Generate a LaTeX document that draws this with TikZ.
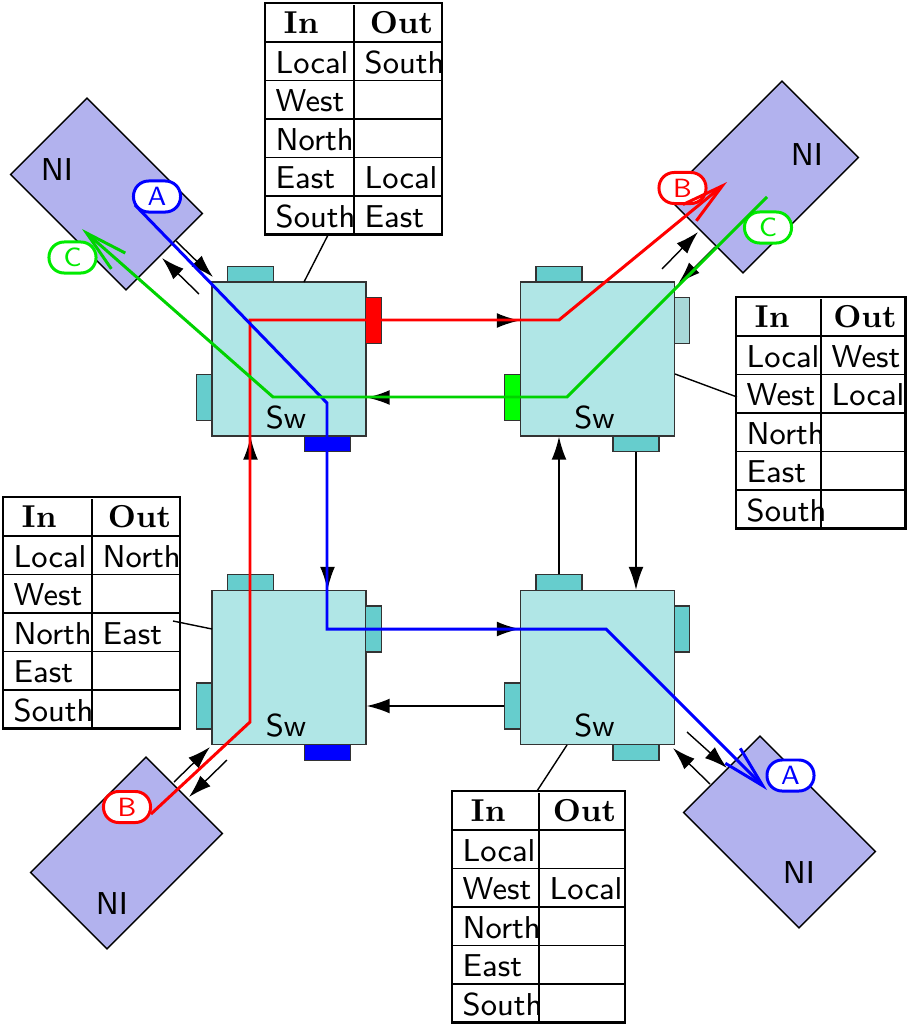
\documentclass[tikz,border=0pt]{standalone}
\usepackage{fontspec}
\usetikzlibrary{arrows.meta,calc,fit}
\definecolor{swfill}{RGB}{176,230,230}
\definecolor{swdraw}{RGB}{51,51,51}
\definecolor{bufc}{RGB}{102,205,205}
\definecolor{bufpale}{RGB}{168,216,216}
\definecolor{nifill}{RGB}{178,178,238}
\definecolor{rred}{RGB}{255,0,0}
\definecolor{rblue}{RGB}{0,0,255}
\definecolor{rgreen}{RGB}{0,210,0}
\definecolor{pgreen}{RGB}{0,235,0}
\definecolor{bgreen}{RGB}{0,255,0}
\tikzset{
 txt/.style={font=\sffamily\fontsize{9}{11}\selectfont, inner sep=0pt},
 hdr/.style={font=\rmfamily\bfseries\fontsize{9}{11}\selectfont, inner sep=0pt},
 swbox/.style={draw=swdraw, fill=swfill, minimum size=1.54cm, inner sep=0pt, line width=0.4pt},
 bufh/.style={draw=swdraw, fill=bufc, minimum width=0.46cm, minimum height=0.155cm, inner sep=0pt, line width=0.4pt},
 bufv/.style={draw=swdraw, fill=bufc, minimum width=0.155cm, minimum height=0.46cm, inner sep=0pt, line width=0.4pt},
 nibox/.style={draw=black, fill=nifill, minimum width=1.63cm, minimum height=1.08cm, inner sep=0pt, line width=0.4pt},
 link/.style={draw=black, line width=0.4pt, -{Latex[length=6.5pt,width=4.2pt]}},
 route/.style={line width=0.85pt, -{Straight Barb[length=12pt,width=6pt]}},
 pill/.style={draw=#1, text=#1, fill=white, line width=0.85pt, rounded corners=4.3pt, minimum width=0.47cm, minimum height=0.31cm, inner sep=0pt, font=\sffamily\fontsize{7.5}{9}\selectfont},
 tabframe/.style={draw=black, line width=0.8pt, inner sep=0pt},
 tabline/.style={draw=black, line width=0.4pt},
 leader/.style={draw=black, line width=0.4pt},
}
% switch: name, cx, cy, colours of north, east, south, west buffers
\newcommand{\swnode}[7]{%
 \node[swbox] (#1) at (#2,#3) {};
 \node[bufh, fill=#4] (#1n) at (#2-38.5,#3-77-8) {};
 \node[bufv, fill=#5] (#1e) at (#2+77+7.5,#3-38.5) {};
 \node[bufh, fill=#6] (#1s) at (#2+38.5,#3+77+8) {};
 \node[bufv, fill=#7] (#1w) at (#2-77-8,#3+38.5) {};
 \node[txt, anchor=base] (#1l) at (#2-3,#3+77-8) {Sw};
}
% routing table: name, left, top, divider x, right, list of row/out
\newcommand{\rtab}[6]{%
 \node[tabframe, fit={(#2,#3) (#5,#3+231.5)}] (#1) {};
 \draw[tabline] (#4,#3+2) -- (#4,#3+231.5);
 \foreach \k in {0,...,4} {\draw[tabline] (#2,#3+39+38.5*\k) -- (#5,#3+39+38.5*\k);}
 \node[hdr, anchor=base west] (#1-hi) at (#2+18,#3+30) {In};
 \node[hdr, anchor=base east] (#1-ho) at (#5-8,#3+30) {Out};
 \foreach \t [count=\k] in {Local,West,North,East,South} {\node[txt, anchor=base west] (#1-i\k) at (#2+10,#3+31.5+38.5*\k) {\t};}
 \foreach \k/\t in {#6} {\node[txt, anchor=base west] (#1-o\k) at (#4+10,#3+31.5+38.5*\k) {\t};}
}
\begin{document}
\begin{tikzpicture}[x=0.01cm,y=-0.01cm]
\useasboundingbox (0,0) rectangle (907,1024);
% network interfaces
\node[nibox, rotate=-45] (ni1) at (106.5,194) {};
\node[nibox, rotate=45] (ni2) at (762.5,177) {};
\node[nibox, rotate=45] (ni3) at (126.5,853) {};
\node[nibox, rotate=-45] (ni4) at (779.5,832) {};
\node[txt] (ni1l) at (57,170) {NI};
\node[txt] (ni2l) at (807,155) {NI};
\node[txt] (ni3l) at (112,904) {NI};
\node[txt] (ni4l) at (799,873) {NI};
% switches
\swnode{s1}{289}{359}{bufc}{rred}{rblue}{bufc}
\swnode{s2}{597.5}{359}{bufc}{bufpale}{bufc}{bgreen}
\swnode{s3}{289}{667.5}{bufc}{bufc}{rblue}{bufc}
\swnode{s4}{597.5}{667.5}{bufc}{bufc}{bufc}{bufc}
% routing tables
\rtab{t1}{265}{3}{354}{442}{1/South,4/Local,5/East}
\rtab{t2}{736}{297}{821}{905.5}{1/West,2/Local}
\rtab{t3}{3}{497}{92}{180}{1/North,3/East}
\rtab{t4}{452}{791}{539}{625}{2/Local}
% leaders from tables to switches
\coordinate (l1a) at (328,235); \coordinate (l1b) at (304,282);
\coordinate (l2a) at (737,397); \coordinate (l2b) at (675,374);
\coordinate (l3a) at (173,621); \coordinate (l3b) at (212,629);
\coordinate (l4a) at (537,791); \coordinate (l4b) at (567,745);
\draw[leader] (l1a) -- (l1b);
\draw[leader] (l2a) -- (l2b);
\draw[leader] (l3a) -- (l3b);
\draw[leader] (l4a) -- (l4b);
% links between switches
\draw[link] (s1e.east) -- (s1e.east -| s2.west);
\draw[link] (s2w.west) -- (s2w.west -| s1.east);
\draw[link] (s1s.south) -- (s1s.south |- s3.north);
\draw[link] (s3n.north) -- (s3n.north |- s1.south);
\draw[link] (s2s.south) -- (s2s.south |- s4.north);
\draw[link] (s4n.north) -- (s4n.north |- s2.south);
\draw[link] (s3e.east) -- (s3e.east -| s4.west);
\draw[link] (s4w.west) -- (s4w.west -| s3.east);
% links between NIs and switches
\coordinate (n1a) at (176,241); \coordinate (n1b) at (213,277);
\coordinate (n1c) at (199,294); \coordinate (n1d) at (162,258);
\coordinate (n2a) at (662,269); \coordinate (n2b) at (698,232);
\coordinate (n2c) at (715,247); \coordinate (n2d) at (678,284);
\coordinate (n3a) at (174,782); \coordinate (n3b) at (210,747);
\coordinate (n3c) at (227,760); \coordinate (n3d) at (189,797);
\coordinate (n4a) at (687,732); \coordinate (n4b) at (727,768);
\coordinate (n4c) at (710,784); \coordinate (n4d) at (673,748);
\draw[link] (n1a) -- (n1b); \draw[link] (n1c) -- (n1d);
\draw[link] (n2a) -- (n2b); \draw[link] (n2c) -- (n2d);
\draw[link] (n3a) -- (n3b); \draw[link] (n3c) -- (n3d);
\draw[link] (n4a) -- (n4b); \draw[link] (n4c) -- (n4d);
% connection labels
\node[pill=rblue] (pA1) at (157,196.5) {A};
\node[pill=pgreen] (pC1) at (72.5,257.5) {C};
\node[pill=rred] (pB2) at (682.5,188) {B};
\node[pill=pgreen] (pC2) at (768,227.5) {C};
\node[pill=rred] (pB3) at (127,807) {B};
\node[pill=rblue] (pA4) at (790.5,775.5) {A};
% routes
\coordinate (rB0) at (151,814); \coordinate (rB1) at (250,722); \coordinate (rB2) at (250,320);
\coordinate (rB3) at (559,320); \coordinate (rB4) at (727,182);
\coordinate (rA0) at (135,205); \coordinate (rA1) at (327,403); \coordinate (rA2) at (327,629);
\coordinate (rA3) at (606,629); \coordinate (rA4) at (767,790);
\coordinate (rC0) at (767,197); \coordinate (rC1) at (567,397); \coordinate (rC2) at (273,397);
\coordinate (rC3) at (82,229);
\draw[route, rred] (rB0) -- (rB1) -- (rB2) -- (rB3) -- (rB4);
\draw[route, rblue] (rA0) -- (rA1) -- (rA2) -- (rA3) -- (rA4);
\draw[route, rgreen] (rC0) -- (rC1) -- (rC2) -- (rC3);
\end{tikzpicture}
\end{document}
